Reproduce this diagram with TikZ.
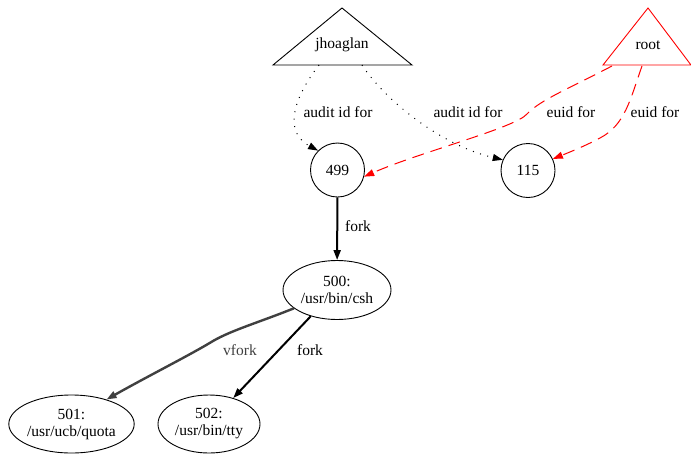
\documentclass[tikz,border=0pt]{standalone}
\usepackage{fontspec}
\setmainfont{Liberation Serif}
\usetikzlibrary{arrows.meta,shapes.geometric}
\begin{document}
\begin{tikzpicture}[x=1pt,y=-1pt,
  every node/.style={font=\fontsize{15.5}{17}\selectfont},
  proc/.style={draw,line width=0.9pt,ellipse,inner sep=0pt,align=center},
  num/.style={draw,line width=0.9pt,circle,minimum size=54pt,inner sep=0pt},
  tip/.style={-{Triangle[length=10pt,width=7pt]}},
  audit/.style={tip,line width=1pt,dash pattern=on 1pt off 6.5pt},
  euid/.style={tip,red,line width=1pt,dash pattern=on 12pt off 7pt},
  forkline/.style={tip,line width=2pt},
  vforkline/.style={tip,line width=2.4pt,black!75},
  lbl/.style={inner sep=0pt}]
\useasboundingbox (0,0) rectangle (691,456);
% triangles
\draw[line width=0.9pt] (342,8) -- (412,65) -- (273,65) -- cycle;
\node (jh) at (342,45) {jhoaglan};
\draw[line width=0.9pt,red] (648,8) -- (691,65) -- (603,65) -- cycle;
\node (root) at (648,45) {root};
\coordinate (jhA) at (319,65);
\coordinate (jhB) at (362,65);
\coordinate (rtA) at (612,66);
\coordinate (rtB) at (642,66);
% nodes
\node[num] (n499) at (337.5,170) {499};
\node[num] (n115) at (528,170.5) {115};
\node[proc,minimum width=108pt,minimum height=59pt] (n500) at (337,290) {500:\\/usr/bin/csh};
\node[proc,minimum width=123pt,minimum height=58pt] (n501) at (71.5,424) {501:\\/usr/ucb/quota};
\node[proc,minimum width=102pt,minimum height=58pt] (n502) at (209,424) {502:\\/usr/bin/tty};
% edges
\draw[audit] (jhA) .. controls (298,92) and (280,130) .. (n499.135);
\draw[audit] (jhB) .. controls (385,100) and (440,145) .. (n115.157);
\draw[euid] (rtA) .. controls (570,88) and (540,100) .. (527,114)
  .. controls (515,128) and (420,152) .. (n499.-14);
\draw[euid] (rtB) .. controls (630,100) and (625,125) .. (600,138)
  .. controls (585,146) and (570,152) .. (n115.25);
\draw[forkline] (n499) -- (n500);
\draw[vforkline] (n500.203) .. controls (260,322) and (232,330) .. (213,341)
  .. controls (190,355) and (150,375) .. (n501.35);
\draw[forkline] (n500.225) -- (n502.47);
% labels
\node[lbl] (l1) at (338,112) {audit id for};
\node[lbl] (l2) at (468,112) {audit id for};
\node[lbl] (l3) at (571,112) {euid for};
\node[lbl] (l4) at (655,112) {euid for};
\node[lbl] (l5) at (358,226) {fork};
\node[lbl,black!75] (l6) at (240,350) {vfork};
\node[lbl] (l7) at (310,350) {fork};
\end{tikzpicture}
\end{document}
